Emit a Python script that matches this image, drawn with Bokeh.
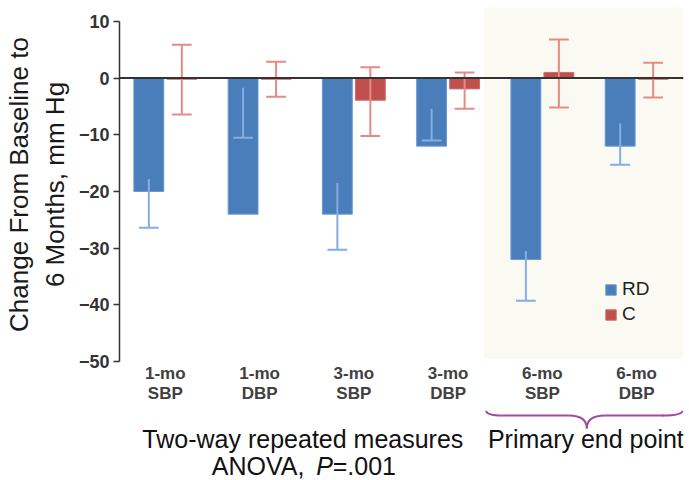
import numpy as np
from math import pi
from bokeh.plotting import figure
from bokeh.layouts import column
from bokeh.models import ColumnDataSource, FixedTicker, Span, Legend, LegendItem, Range1d
from bokeh.transform import dodge
from bokeh.core.properties import value
from bokeh.embed import file_html
from bokeh.resources import INLINE

# ---------------- data ----------------
categories = ["1-mo SBP", "1-mo DBP", "3-mo SBP", "3-mo DBP", "6-mo SBP", "6-mo DBP"]
rd_mean = [-20, -24, -24, -12, -32, -12]
rd_err_hi = [-17.8, -1.7, -18.5, -5.4, -30.5, -8.0]
rd_err_lo = [-26.4, -10.5, -30.3, -11.0, -39.3, -15.3]
c_mean = [-0.2, -0.2, -3.9, -1.9, 1.0, -0.2]
c_err_hi = [5.9, 2.9, 1.9, 1.0, 6.8, 2.7]
c_err_lo = [-6.4, -3.3, -10.2, -5.4, -5.2, -3.4]
y_ticks = [-50, -40, -30, -20, -10, 0, 10]
series_names = ["RD", "C"]
y_title = "Change From Baseline to\n6 Months, mm Hg"
note_left = "Two-way repeated measures"
note_anova = ["ANOVA,", "P", "=.001"]
note_right = "Primary end point"

FONT = "Liberation Sans"
BLUE, BLUE_EDGE, BLUE_ERR = "#4a7ebb", "#6b98cf", "#86ade0"
RED, RED_EDGE, RED_ERR = "#c0504d", "#cf6b68", "#e58a85"
PURPLE = "#a04aa0"

xpos = list(range(len(categories)))
src = ColumnDataSource(dict(
    x=xpos,
    rd=rd_mean, rd_hi=rd_err_hi, rd_lo=rd_err_lo,
    c=c_mean, c_hi=c_err_hi, c_lo=c_err_lo,
))

xr = Range1d(-0.486, 5.497)
common = dict(width=689, x_range=xr, output_backend="svg", toolbar_location=None,
              min_border_left=117, min_border_right=6)

p = figure(height=410, y_range=Range1d(-50, 12.46), min_border_top=7, min_border_bottom=49, **common)
p.outline_line_color = None
p.grid.visible = False

# shaded primary end-point band
p.quad(left=[3.383], right=[6.0], bottom=[-49.6], top=[13.0],
       fill_color="#fafaf3", line_color=None)

off, bw, cap = 0.175, 0.317, 0.105
rd_r = p.vbar(x=dodge("x", -off, range=xr), top="rd", bottom=0, width=bw, source=src,
              fill_color=BLUE, line_color=BLUE_EDGE, line_width=1)
c_r = p.vbar(x=dodge("x", off, range=xr), top="c", bottom=0, width=bw, source=src,
             fill_color=RED, line_color=RED_EDGE, line_width=1)

# error bars
p.segment(x0=dodge("x", -off, range=xr), x1=dodge("x", -off, range=xr),
          y0="rd_hi", y1="rd_lo", source=src, line_color=BLUE_ERR, line_width=2)
p.segment(x0=dodge("x", -off - cap, range=xr), x1=dodge("x", -off + cap, range=xr),
          y0="rd_lo", y1="rd_lo", source=src, line_color=BLUE_ERR, line_width=2)
p.segment(x0=dodge("x", off, range=xr), x1=dodge("x", off, range=xr),
          y0="c_hi", y1="c_lo", source=src, line_color=RED_ERR, line_width=2)
for col in ("c_hi", "c_lo"):
    p.segment(x0=dodge("x", off - cap, range=xr), x1=dodge("x", off + cap, range=xr),
              y0=col, y1=col, source=src, line_color=RED_ERR, line_width=2)

p.add_layout(Span(location=0, dimension="width", line_color="#333333", line_width=2))

# x axis: category labels (two lines each)
xa = p.xaxis[0]
xa.ticker = FixedTicker(ticks=xpos)
xa.major_label_overrides = {i: c.replace(" ", "\n") for i, c in zip(xpos, categories)}
xa.axis_line_color = None
xa.major_tick_line_color = None
xa.minor_tick_line_color = None
xa.major_tick_out = 0
xa.major_tick_in = 0
xa.major_label_standoff = 2
xa.major_label_text_font = FONT
xa.major_label_text_font_style = "bold"
xa.major_label_text_font_size = "17px"
xa.major_label_text_color = "#404040"
xa.major_label_text_line_height = 1.1

# y axis
ax = p.yaxis[0]
ax.bounds = (-50, 10)
ax.ticker = FixedTicker(ticks=y_ticks)
ax.minor_tick_line_color = None
ax.major_tick_out = 6
ax.major_tick_in = 0
ax.axis_line_color = "#333333"
ax.axis_line_width = 1.5
ax.major_tick_line_color = "#333333"
ax.major_tick_line_width = 1.5
ax.major_label_standoff = 4
ax.major_label_text_font = FONT
ax.major_label_text_font_style = "bold"
ax.major_label_text_font_size = "18px"
ax.major_label_text_color = "#333333"
ax.axis_label = y_title
ax.axis_label_standoff = 6
ax.axis_label_text_font = FONT
ax.axis_label_text_font_style = "normal"
ax.axis_label_text_font_size = "26px"
ax.axis_label_text_color = "#1a1a1a"

legend = Legend(items=[LegendItem(label=series_names[0], renderers=[rd_r]),
                       LegendItem(label=series_names[1], renderers=[c_r])],
                location=(485, 36), padding=0, margin=0, spacing=3,
                glyph_width=13, glyph_height=13, label_standoff=5,
                label_text_font=FONT, label_text_font_size="19px", label_text_color="#222222",
                border_line_color=None, background_fill_alpha=0)
p.add_layout(legend)

# ---------------- lower panel: brace and notes ----------------
p2 = figure(height=70, y_range=Range1d(480, 410), x_axis_location=None, y_axis_location=None,
            min_border_top=0, min_border_bottom=0, **common)
p2.outline_line_color = None
p2.grid.visible = False

# brace under the 6-month groups
p2.quadratic(x0=[3.404, 4.281, 4.471, 5.275], y0=[410, 415, 428, 415],
             x1=[3.580, 4.471, 4.662, 5.486], y1=[415, 428, 415, 410],
             cx=[3.404, 4.471, 4.471, 5.486], cy=[415, 415, 415, 415],
             line_color=PURPLE, line_width=2)
p2.segment(x0=[3.580, 4.662], y0=[415, 415], x1=[4.281, 5.290], y1=[415, 415],
           line_color=PURPLE, line_width=2)

tkw = dict(text_font=value(FONT), text_font_size="25px", text_color="#111111",
           text_baseline="alphabetic")
p2.text(x=[1.459], y=[438], text=[note_left], text_align="center", **tkw)
p2.text(x=[4.461], y=[438], text=[note_right], text_align="center", **tkw)
p2.text(x=[1.475], y=[465], text=[note_anova[0]], text_align="right", **tkw)
p2.text(x=[1.601], y=[465], text=[note_anova[1]], text_align="left", text_font_style="italic", **tkw)
p2.text(x=[1.776], y=[465], text=[note_anova[2]], text_align="left", **tkw)

layout = column(p, p2, spacing=0)
open("out.html", "w").write(file_html(layout, INLINE))
